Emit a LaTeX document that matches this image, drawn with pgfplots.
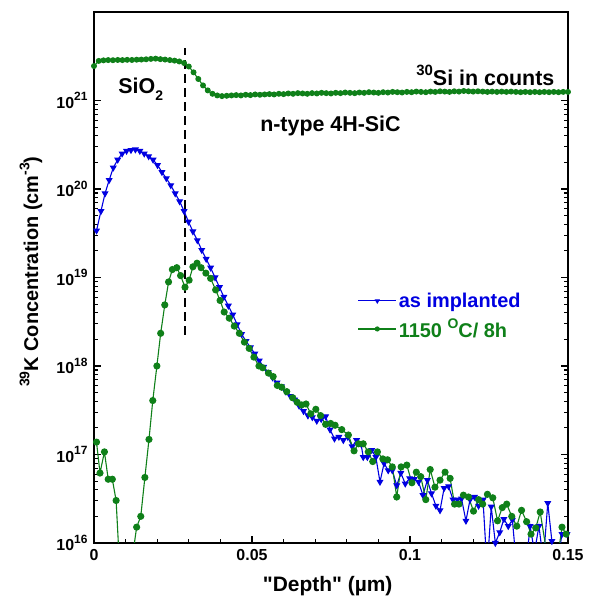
\documentclass[border=0pt]{standalone}
\usepackage{fontspec}
\setmainfont{Liberation Sans}
\newfontfamily\plainsans{Liberation Sans}
\usepackage{pgfplots}
\usepackage{pgfplotstable}
\pgfplotsset{compat=1.18}
\definecolor{kblue}{RGB}{0,0,225}
\definecolor{kgreen}{RGB}{15,128,25}
\newcommand{\up}[2][12]{\raisebox{0.45em}{\fontsize{#1}{#1}\selectfont #2}}

% as implanted
\pgfplotstableread{
x y
0.0008 3.39e19
0.0022 5.62e19
0.0035 8.91e19
0.0048 1.26e20
0.0061 1.74e20
0.0075 2.14e20
0.0089 2.51e20
0.0103 2.69e20
0.0117 2.75e20
0.0131 2.79e20
0.0145 2.69e20
0.0159 2.51e20
0.0173 2.34e20
0.0187 2.14e20
0.0201 1.86e20
0.0215 1.55e20
0.0229 1.32e20
0.0243 1.10e20
0.0257 8.91e19
0.0271 7.24e19
0.0285 5.62e19
0.0299 4.27e19
0.0313 3.31e19
0.0327 2.63e19
0.0341 2.04e19
0.0355 1.62e19
0.0369 1.29e19
0.0383 1.00e19
0.0397 7.76e18
0.0411 6.03e18
0.0425 4.79e18
0.0439 3.80e18
0.0453 2.95e18
0.0467 2.29e18
0.0481 1.91e18
0.0495 1.62e18
0.0509 1.38e18
0.0523 1.15e18
0.0537 9.77e17
0.0551 8.51e17
0.0565 7.41e17
0.0579 6.46e17
0.0593 5.89e17
0.0607 5.13e17
0.0621 4.57e17
0.0635 4.17e17
0.0649 3.55e17
0.0663 3.09e17
0.0677 2.75e17
0.0691 2.63e17
0.0705 2.40e17
0.0719 2.51e17
0.0733 2.69e17
0.0747 1.91e17
0.0761 1.51e17
0.0775 1.58e17
0.0789 1.45e17
0.0803 1.58e17
0.0817 1.23e17
0.0831 1.45e17
0.0845 1.32e17
0.0852 9.33e16
0.0865 9.33e16
0.0879 1.12e17
0.0892 9.33e16
0.0905 4.90e16
0.0918 7.94e16
0.0931 6.61e16
0.0944 6.61e16
0.0958 4.47e16
0.0971 6.17e16
0.0985 4.68e16
0.0999 5.37e16
0.1013 5.25e16
0.1027 4.90e16
0.1041 3.47e16
0.1055 5.13e16
0.1068 3.63e16
0.1082 2.63e16
0.1095 2.34e16
0.1108 4.17e16
0.1122 4.37e16
0.1136 3.09e16
0.1150 3.09e16
0.1163 3.16e16
0.1177 1.78e16
0.1190 3.09e16
0.1204 3.31e16
0.1217 2.63e16
0.1231 3.09e16
0.1244 5.0e15
0.1257 2.57e16
0.1270 1.0e16
0.1284 1.32e16
0.1297 1.86e16
0.1311 1.55e16
0.1324 1.82e16
0.1338 5.0e15
0.1352 8.9e15
0.1366 5.0e15
0.1380 1.55e16
0.1394 7.9e15
0.1408 1.55e16
0.1422 6.3e15
0.1436 2.82e16
0.1449 1.05e16
0.1463 5.0e15
0.1481 1.26e16
0.1497 1.26e16
}\asimpl

% 1150 C / 8 h
\pgfplotstableread{
x y
0.0008 1.38e17
0.0019 6.17e16
0.0033 1.07e17
0.0045 5.25e16
0.0058 5.25e16
0.0070 3.02e16
0.0083 3.9e15
0.0096 1.6e15
0.0109 1.6e15
0.0122 7.1e15
0.0135 1.51e16
0.0148 2.0e16
0.0161 5.5e16
0.0174 1.48e17
0.0186 4.07e17
0.0199 1.0e18
0.0211 2.34e18
0.0224 4.90e18
0.0236 8.91e18
0.0248 1.23e19
0.0262 1.29e19
0.0274 1.05e19
0.0288 7.76e18
0.0301 9.33e18
0.0313 1.32e19
0.0326 1.45e19
0.0339 1.29e19
0.0354 1.12e19
0.0369 9.77e18
0.0385 7.24e18
0.0399 5.50e18
0.0412 4.07e18
0.0428 3.47e18
0.0444 2.82e18
0.0460 2.34e18
0.0476 1.86e18
0.0491 1.58e18
0.0506 1.26e18
0.0522 1.0e18
0.0534 9.55e17
0.0552 8.32e17
0.0567 7.59e17
0.0580 6.03e17
0.0594 5.75e17
0.0610 5.13e17
0.0629 4.37e17
0.0643 3.89e17
0.0657 3.63e17
0.0671 3.72e17
0.0686 2.88e17
0.0702 3.24e17
0.0717 2.75e17
0.0733 2.19e17
0.0749 2.24e17
0.0763 2.14e17
0.0784 1.91e17
0.0805 1.66e17
0.0823 1.10e17
0.0837 1.32e17
0.0852 1.32e17
0.0868 1.07e17
0.0882 8.32e16
0.0897 1.07e17
0.0914 8.91e16
0.0929 8.71e16
0.0944 7.24e16
0.0958 3.31e16
0.0972 7.24e16
0.0990 7.59e16
0.1006 4.79e16
0.1020 6.31e16
0.1034 5.62e16
0.1050 3.09e16
0.1064 6.76e16
0.1079 4.27e16
0.1095 5.13e16
0.1111 6.31e16
0.1127 5.37e16
0.1141 2.75e16
0.1155 2.75e16
0.1169 3.47e16
0.1185 3.31e16
0.1201 2.29e16
0.1217 3.09e16
0.1230 2.75e16
0.1245 3.55e16
0.1262 3.24e16
0.1277 1.78e16
0.1292 2.51e16
0.1306 2.75e16
0.1322 2.0e16
0.1338 1.55e16
0.1353 2.34e16
0.1369 1.74e16
0.1383 1.26e16
0.1398 1.48e16
0.1412 2.24e16
0.1428 9.8e15
0.1445 6.3e15
0.1462 5.0e15
0.1481 1.51e16
0.1494 1.26e16
}\annealed

% 30Si counts
\pgfplotstableread{
x y
0.0000 2.45e21
0.0015 2.80e21
0.0030 2.84e21
0.0045 2.86e21
0.0060 2.85e21
0.0075 2.87e21
0.0090 2.86e21
0.0105 2.88e21
0.0120 2.87e21
0.0135 2.89e21
0.0150 2.90e21
0.0165 2.92e21
0.0180 2.95e21
0.0195 2.97e21
0.0210 2.93e21
0.0225 2.90e21
0.0240 2.86e21
0.0255 2.82e21
0.0270 2.76e21
0.0285 2.65e21
0.0300 2.42e21
0.0315 2.08e21
0.0330 1.75e21
0.0345 1.48e21
0.0360 1.30e21
0.0375 1.19e21
0.0390 1.14e21
0.0405 1.12e21
0.0420 1.13e21
0.0435 1.14e21
0.0450 1.15e21
0.0465 1.14e21
0.0480 1.16e21
0.0495 1.15e21
0.0510 1.17e21
0.0525 1.16e21
0.0540 1.17e21
0.0555 1.18e21
0.0570 1.17e21
0.0585 1.19e21
0.0600 1.18e21
0.0615 1.20e21
0.0630 1.19e21
0.0645 1.21e21
0.0660 1.20e21
0.0675 1.19e21
0.0690 1.21e21
0.0705 1.20e21
0.0720 1.22e21
0.0735 1.21e21
0.0750 1.20e21
0.0765 1.22e21
0.0780 1.21e21
0.0795 1.23e21
0.0810 1.22e21
0.0825 1.21e21
0.0840 1.23e21
0.0855 1.22e21
0.0870 1.24e21
0.0885 1.23e21
0.0900 1.22e21
0.0915 1.24e21
0.0930 1.23e21
0.0945 1.25e21
0.0960 1.24e21
0.0975 1.23e21
0.0990 1.25e21
0.1005 1.24e21
0.1020 1.26e21
0.1035 1.25e21
0.1050 1.24e21
0.1065 1.26e21
0.1080 1.25e21
0.1095 1.27e21
0.1110 1.26e21
0.1125 1.25e21
0.1140 1.27e21
0.1155 1.26e21
0.1170 1.28e21
0.1185 1.27e21
0.1200 1.26e21
0.1215 1.27e21
0.1230 1.26e21
0.1245 1.25e21
0.1260 1.26e21
0.1275 1.25e21
0.1290 1.26e21
0.1305 1.25e21
0.1320 1.26e21
0.1335 1.25e21
0.1350 1.24e21
0.1365 1.25e21
0.1380 1.24e21
0.1395 1.25e21
0.1410 1.24e21
0.1425 1.25e21
0.1440 1.24e21
0.1455 1.25e21
0.1470 1.24e21
0.1485 1.25e21
0.1500 1.25e21
}\sicounts

\begin{document}
\begin{tikzpicture}
\useasboundingbox (-94bp,-58bp) rectangle (498bp,543bp);
\begin{axis}[
    at={(0,0)}, anchor=south west,
    scale only axis,
    width=474bp, height=531bp,
    ymode=log,
    xmin=0, xmax=0.15,
    ymin=1e16, ymax=1e22,
    xtick={0,0.05,0.1,0.15},
    xticklabels={0,0.05,0.1,0.15},
    minor x tick num=4,
    ytick={1e16,1e17,1e18,1e19,1e20,1e21},
    yticklabels={10\up{16},10\up{17},10\up{18},10\up{19},10\up{20},10\up{21}},
    xtick pos=bottom,
    tick align=inside,
    major tick length=7bp, minor tick length=4bp,
    axis line style={line width=1.8bp},
    every tick/.style={black, line width=1.1bp},
    tick label style={font=\fontsize{16}{19}\selectfont\bfseries},
    xticklabel style={yshift=-3bp},
    yticklabel style={xshift=-3bp},
    every axis y label/.style={at={(axis description cs:-0.133,0.511)}, rotate=90,
        anchor=center, font=\fontsize{20}{23}\selectfont\bfseries},
    every axis x label/.style={at={(axis description cs:0.493,-0.082)},
        anchor=center, font=\plainsans\fontsize{21}{24}\selectfont\bfseries},
    xlabel={"Depth" (µm)},
    ylabel={\up[14]{39}K Concentration (cm\up[14]{-3})},
    legend style={at={(axis description cs:0.556,0.475)}, anchor=north west,
        draw=none, fill=none, inner sep=0pt, row sep=6bp,
        font=\fontsize{20}{23}\selectfont\bfseries},
    legend cell align=left,
    legend image code/.code={\draw[mark repeat=2,mark phase=2,mark size=2bp]
        plot coordinates {(0bp,0bp)(19bp,0bp)(38bp,0bp)};},
]
\addplot[black, line width=1.8bp, dash pattern=on 9bp off 5bp, forget plot]
    coordinates {(0.0288,2.25e18) (0.0288,3.87e21)};
\addplot[kblue, line width=1.1bp, mark=triangle*, mark size=3bp,
    mark options={rotate=180}] table {\asimpl};
\addlegendentry{\textcolor{kblue}{as implanted}}
\addplot[kgreen, line width=1.1bp, mark=*, mark size=3bp] table {\annealed};
\addlegendentry{\textcolor{kgreen}{1150 \up[14]{O}C/ 8h}}
\addplot[kgreen, line width=1.1bp, mark=*, mark size=2.4bp, forget plot] table {\sicounts};
\node[anchor=base west, font=\fontsize{21.5}{24}\selectfont\bfseries]
    at (axis cs:0.0066,1.19e21) {SiO\raisebox{-0.3em}{\fontsize{14}{14}\selectfont 2}};
\node[anchor=base west, font=\fontsize{21.5}{24}\selectfont\bfseries]
    at (axis cs:0.0515,4.5e20) {n-type 4H-SiC};
\node[anchor=base east, font=\fontsize{21.5}{24}\selectfont\bfseries]
    at (axis cs:0.1468,1.48e21) {\up[15]{30}Si in counts};
\end{axis}
\end{tikzpicture}
\end{document}
